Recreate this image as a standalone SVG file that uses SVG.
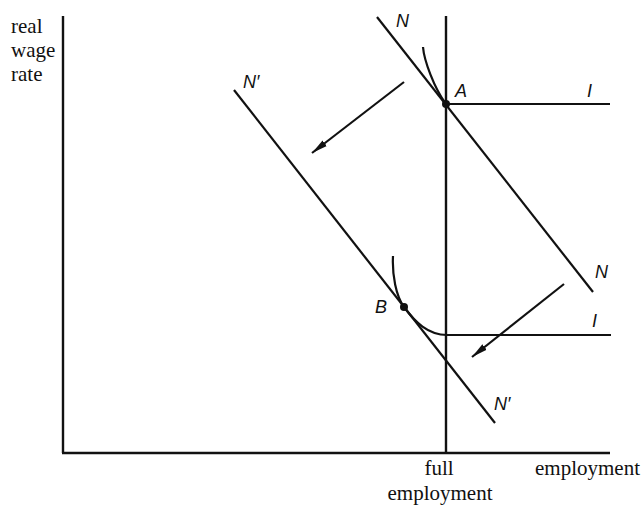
<svg xmlns="http://www.w3.org/2000/svg" width="643" height="505" viewBox="0 0 643 505">
<style>
.ln{stroke:#111;stroke-width:2.2;fill:none;stroke-linecap:butt}
.ax{stroke:#111;stroke-width:2.4;fill:none}
.t{font-family:"Liberation Serif","Times New Roman",serif;font-size:21px;fill:#111}
.it{font-family:"Liberation Sans",Arial,sans-serif;font-size:18px;font-style:italic;fill:#111}
</style>
<defs>
<marker id="ah" markerUnits="userSpaceOnUse" markerWidth="18" markerHeight="10" refX="16" refY="5" orient="auto">
<path d="M0,1.5 L16,5 L0,8.5 Z" fill="#111"/>
</marker>
</defs>
<g id="axes">
<line class="ax" x1="63" y1="16" x2="63" y2="453"/>
<line class="ax" x1="62" y1="453" x2="610" y2="453"/>
<text class="t" x="11" y="33">real</text>
<text class="t" x="11" y="57">wage</text>
<text class="t" x="11" y="81">rate</text>
<text class="t" x="535" y="475">employment</text>
</g>
<g id="full-employment">
<line class="ax" x1="446" y1="16" x2="446" y2="453"/>
<text class="t" x="439" y="475" text-anchor="middle">full</text>
<text class="t" x="440" y="500" text-anchor="middle">employment</text>
</g>
<g id="N">
<line class="ln" x1="377" y1="17" x2="593" y2="292"/>
<text class="it" x="396" y="27">N</text>
<text class="it" x="595" y="278">N</text>
</g>
<g id="Nprime">
<line class="ln" x1="234" y1="90" x2="495" y2="423"/>
<text class="it" x="243" y="88">N′</text>
<text class="it" x="494" y="410">N′</text>
</g>
<g id="I-upper">
<path class="ln" d="M423,47 C424,60 434,88 446,104 L610,104"/>
<text class="it" x="587" y="97">I</text>
</g>
<g id="I-lower">
<path class="ln" d="M393,256 C392,275 396,296 404,307 C415,322 428,335 447,335 L611,335"/>
<text class="it" x="592" y="327">I</text>
</g>
<g id="A">
<circle cx="446" cy="104" r="4" fill="#111"/>
<text class="it" x="455" y="97">A</text>
</g>
<g id="B">
<circle cx="404" cy="307" r="4" fill="#111"/>
<text class="it" x="375" y="313">B</text>
</g>
<g id="connectors">
<line class="ln" x1="404" y1="82" x2="312" y2="153" marker-end="url(#ah)"/>
<line class="ln" x1="564" y1="284" x2="472" y2="357" marker-end="url(#ah)"/>
</g>
</svg>
